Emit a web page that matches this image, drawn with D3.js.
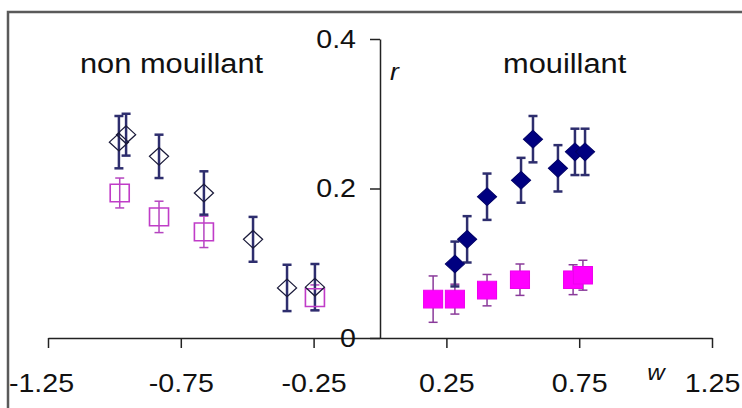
<!DOCTYPE html>
<html>
<head>
	<script src="https://cdnjs.cloudflare.com/ajax/libs/d3/7.8.5/d3.min.js"></script>
	<style>
		body { margin: 0; background: #fff; }
		text { font-family: "Liberation Sans", Arial, sans-serif; fill: #111; }
	</style>
</head>
<body>
<script>
	var width = 742, height = 408;

	// axis ticks
	var xTicks = [-1.25, -0.75, -0.25, 0.25, 0.75, 1.25];
	var yTicks = [0, 0.2, 0.4];

	// non mouillant : open diamonds / open squares
	var nmDiamondW   = [-0.983, -0.956, -0.832, -0.663, -0.478, -0.350, -0.245];
	var nmDiamondR   = [0.262, 0.272, 0.243, 0.194, 0.132, 0.067, 0.068];
	var nmDiamondErr = [0.035, 0.028, 0.029, 0.029, 0.030, 0.031, 0.031];

	var nmSquareW   = [-0.980, -0.832, -0.663, -0.245];
	var nmSquareR   = [0.194, 0.162, 0.142, 0.054];
	var nmSquareErr = [0.020, 0.021, 0.021, 0.017];

	// mouillant : filled diamonds / filled squares
	var mDiamondW   = [0.282, 0.328, 0.403, 0.531, 0.576, 0.670, 0.734, 0.772];
	var mDiamondR   = [0.099, 0.132, 0.189, 0.211, 0.266, 0.227, 0.249, 0.249];
	var mDiamondErr = [0.030, 0.031, 0.031, 0.030, 0.031, 0.031, 0.031, 0.031];

	var mSquareW   = [0.200, 0.282, 0.403, 0.527, 0.727, 0.764];
	var mSquareR   = [0.052, 0.052, 0.064, 0.078, 0.078, 0.084];
	var mSquareErr = [0.031, 0.020, 0.021, 0.021, 0.020, 0.020];

	var svg = d3.select('body').append('svg')
		.attr('width', width)
		.attr('height', height);

	// frame (left + top only visible)
	svg.append('path')
		.attr('d', 'M8,' + height + 'V12H' + width)
		.attr('fill', 'none')
		.attr('stroke', '#5a5a5a')
		.attr('stroke-width', 2.5);

	var x = d3.scaleLinear().domain([-1.25, 1.25]).range([48, 712]);
	var y = d3.scaleLinear().domain([0, 0.4]).range([338, 39]);

	var sx = 1.1; // text looks a bit stretched

	var xAxis = svg.append('g')
		.attr('transform', 'translate(0,' + y(0) + ')')
		.call(d3.axisBottom(x).tickValues(xTicks).tickSize(10).tickSizeOuter(0)
			.tickFormat(function(d) { return d.toFixed(2); }));

	var yAxis = svg.append('g')
		.attr('transform', 'translate(' + x(0) + ',0)')
		.call(d3.axisLeft(y).tickValues(yTicks).tickSize(10).tickSizeOuter(0)
			.tickFormat(function(d) { return d === 0 ? '0' : d.toFixed(1); }));

	[xAxis, yAxis].forEach(function(a) {
		a.selectAll('path, line').attr('stroke', '#222').attr('stroke-width', 1.5);
		a.selectAll('text').style('font-size', '26px').attr('fill', '#111')
			.style('font-family', '"Liberation Sans", Arial, sans-serif');
	});
	xAxis.selectAll('text').attr('y', 36)
		.attr('x', function(d, i) { return i === 0 ? -7 / sx : 0; }) // first label pushed left, like excel
		.attr('transform', 'scale(' + sx + ',1)');
	yAxis.selectAll('text').attr('x', -24 / sx).attr('transform', 'scale(' + sx + ',1)');

	function label(str, px, py, size, italic, anchor) {
		svg.append('text')
			.attr('transform', 'translate(' + px + ',' + py + ') scale(' + sx + ',1)')
			.attr('text-anchor', anchor || 'start')
			.style('font-size', size + 'px')
			.style('font-style', italic ? 'italic' : 'normal')
			.text(str);
	}

	label('non mouillant', 80, 73, 28);
	label('mouillant', 503, 73, 28);
	label('r', 390, 80, 24, true);
	label('w', 656, 380, 22, true, 'middle');

	function zip(ws, rs, es) {
		return ws.map(function(w, i) { return { w: w, r: rs[i], e: es[i] }; });
	}

	function errorBars(data, color, lw) {
		var g = svg.append('g').attr('stroke', color).attr('stroke-width', lw).attr('fill', 'none');
		var cap = 4.5;
		data.forEach(function(d) {
			var cx = x(d.w), y0 = y(d.r - d.e), y1 = y(d.r + d.e);
			g.append('line').attr('x1', cx).attr('x2', cx).attr('y1', y0).attr('y2', y1);
			g.append('line').attr('x1', cx - cap).attr('x2', cx + cap).attr('y1', y0).attr('y2', y0);
			g.append('line').attr('x1', cx - cap).attr('x2', cx + cap).attr('y1', y1).attr('y2', y1);
		});
	}

	var diamond = d3.symbol().type(d3.symbolDiamond2).size(200);
	var square = d3.symbol().type(d3.symbolSquare).size(310);

	function markers(data, sym, fill, stroke, sw) {
		svg.append('g').selectAll('path')
			.data(data)
			.enter().append('path')
			.attr('d', sym)
			.attr('transform', function(d) { return 'translate(' + x(d.w) + ',' + y(d.r) + ') scale(1.08,1)'; })
			.attr('fill', fill)
			.attr('stroke', stroke)
			.attr('stroke-width', sw);
	}

	var nmD = zip(nmDiamondW, nmDiamondR, nmDiamondErr);
	var nmS = zip(nmSquareW, nmSquareR, nmSquareErr);
	var mD = zip(mDiamondW, mDiamondR, mDiamondErr);
	var mS = zip(mSquareW, mSquareR, mSquareErr);

	errorBars(nmS, '#b545c0', 1.5);
	errorBars(nmD, '#2e2e6e', 2.5);
	markers(nmS, square, 'none', '#c03cc8', 1.5);
	markers(nmD, diamond, 'none', '#1a1a3a', 1.2);

	errorBars(mS, '#8a3a9a', 1.5);
	errorBars(mD, '#2e2e6e', 2.5);
	markers(mS, square, '#ff00ff', '#ee00ee', 1);
	markers(mD, diamond, '#000080', '#000066', 1);
</script>
</body>
</html>
